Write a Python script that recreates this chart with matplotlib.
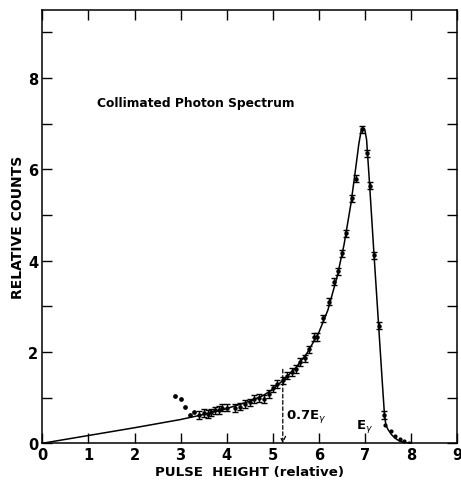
import numpy as np
import matplotlib
matplotlib.use("Agg")
import matplotlib.pyplot as plt

# measured points with error bars
x_pts = [3.40, 3.50, 3.60, 3.67, 3.75, 3.83, 3.91, 4.00, 4.19, 4.28, 4.39, 4.50,
         4.60, 4.70, 4.81, 4.91, 5.00, 5.10, 5.22, 5.32, 5.42, 5.51, 5.60, 5.70,
         5.80, 5.90, 5.97, 6.10, 6.22, 6.33, 6.42, 6.51, 6.60, 6.73, 6.81, 6.94,
         7.05, 7.11, 7.20, 7.30, 7.42]
y_pts = [0.62, 0.66, 0.64, 0.68, 0.72, 0.73, 0.78, 0.78, 0.77, 0.80, 0.86, 0.90,
         0.97, 0.99, 0.97, 1.08, 1.20, 1.30, 1.38, 1.48, 1.56, 1.63, 1.78, 1.86,
         2.06, 2.33, 2.33, 2.74, 3.10, 3.54, 3.77, 4.16, 4.60, 5.37, 5.80, 6.88,
         6.35, 5.64, 4.12, 2.58, 0.62]
y_err = 0.08

# low-energy points (no error bars) and tail points
x_low = [2.88, 3.01, 3.09, 3.20, 3.30]
y_low = [1.03, 0.96, 0.79, 0.61, 0.69]
x_tail = [7.45, 7.56, 7.66, 7.76, 7.86, 7.96]
y_tail = [0.40, 0.27, 0.17, 0.09, 0.04, 0.01]

# fitted curve, knots
x_fit = [0.0, 1.0, 2.0, 3.0, 3.5, 4.0, 4.5, 4.8, 5.0, 5.25, 5.5, 5.75, 6.0, 6.2,
         6.4, 6.55, 6.7, 6.8, 6.87, 6.92, 6.96, 7.00, 7.04, 7.10, 7.20, 7.30,
         7.38, 7.43, 7.46, 7.50, 7.58, 7.66, 7.75, 7.85, 7.95]
y_fit = [0.0, 0.17, 0.34, 0.52, 0.63, 0.76, 0.92, 1.05, 1.18, 1.40, 1.65, 1.98,
         2.42, 2.92, 3.65, 4.35, 5.25, 6.00, 6.55, 6.84, 6.92, 6.88, 6.65, 5.75,
         4.15, 2.60, 1.35, 0.60, 0.40, 0.31, 0.19, 0.11, 0.05, 0.015, 0.0]

fig = plt.figure(figsize=(4.61, 4.85), dpi=100)
ax = fig.add_axes([0.092, 0.084, 0.899, 0.894])

ax.plot(x_fit, y_fit, color="black", lw=1.1)
ax.errorbar(x_pts, y_pts, yerr=y_err, fmt="o", ms=2.2, color="black",
            ecolor="black", elinewidth=1.0, capsize=2.0, capthick=1.0)
ax.plot(x_low, y_low, "o", ms=2.4, color="black")
ax.plot(x_tail, y_tail, "o", ms=2.0, color="black")

# 0.7 E_gamma marker
ax.annotate("", xy=(5.22, 0.0), xytext=(5.22, 1.62),
            arrowprops=dict(arrowstyle="->", linestyle=(0, (3, 2)), lw=0.9,
                            color="black", shrinkA=0, shrinkB=0))
ax.text(5.30, 0.60, r"0.7E$_\gamma$", fontsize=9.5, fontweight="bold",
        va="center", ha="left")
ax.text(7.0, 0.38, r"E$_\gamma$", fontsize=9.5, fontweight="bold",
        va="center", ha="center")

ax.text(1.18, 7.47, "Collimated Photon Spectrum", fontsize=8.8,
        fontweight="bold", va="center", ha="left")

ax.set_xlim(0, 9)
ax.set_ylim(0, 9.5)
ax.set_xticks(range(0, 10))
ax.set_yticks(range(0, 10))
ax.set_yticklabels([str(v) if v % 2 == 0 else "" for v in range(0, 10)])
ax.tick_params(direction="in", length=7.5, width=1.0, top=True, right=True,
               labelsize=10.5, pad=3)
for lab in ax.get_xticklabels() + ax.get_yticklabels():
    lab.set_fontweight("bold")
for s in ax.spines.values():
    s.set_linewidth(1.1)

ax.set_xlabel("PULSE  HEIGHT (relative)", fontsize=9.6, fontweight="bold",
              labelpad=2)
ax.set_ylabel("RELATIVE COUNTS", fontsize=10, fontweight="bold", labelpad=2)

fig.savefig("out.png", dpi=100)
